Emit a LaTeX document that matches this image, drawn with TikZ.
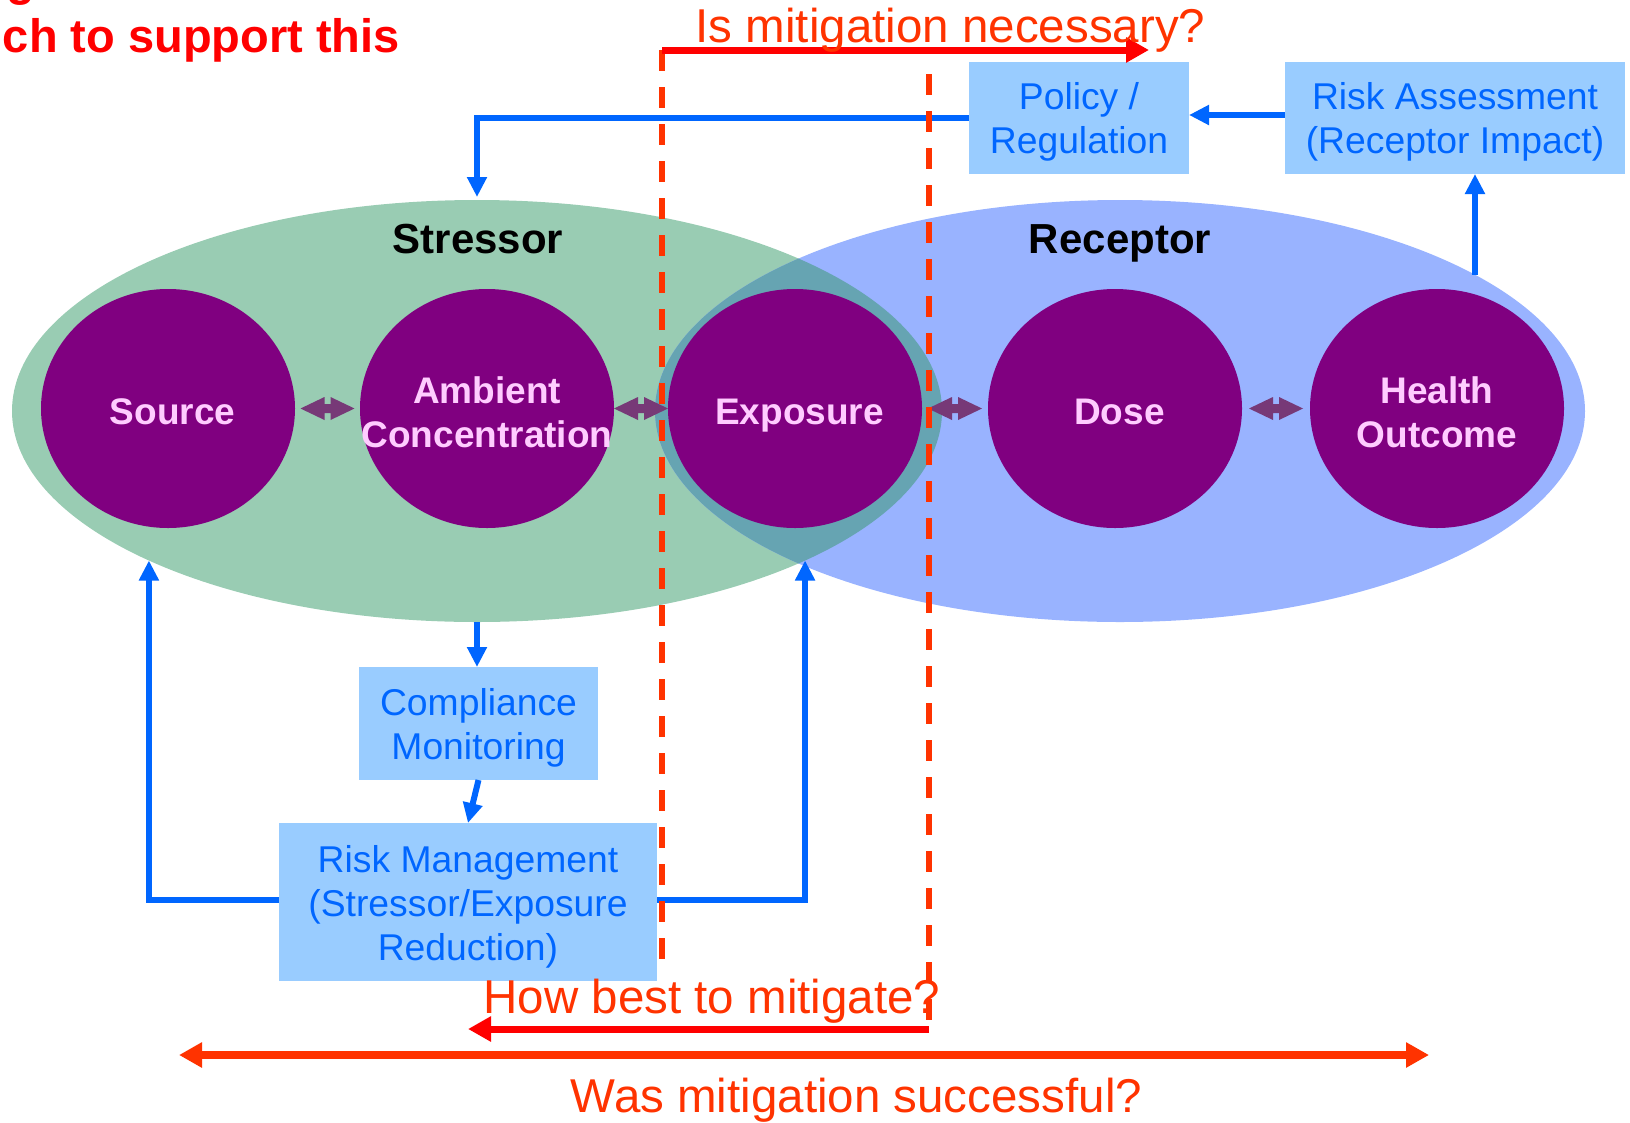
\documentclass[tikz,border=0pt]{standalone}
\usepackage{fontspec}
\setmainfont{Liberation Sans}
\usetikzlibrary{arrows.meta,shapes.geometric,calc}

\definecolor{stressfill}{RGB}{153,204,179}
\definecolor{recfill}{RGB}{153,179,255}
\definecolor{lensfill}{RGB}{102,164,178}
\definecolor{circfill}{RGB}{128,0,128}
\definecolor{circtext}{RGB}{255,204,255}
\definecolor{linkarrow}{RGB}{119,57,119}
\definecolor{boxfill}{RGB}{153,204,255}
\definecolor{flowblue}{RGB}{0,102,255}
\definecolor{qred}{RGB}{255,51,0}
\definecolor{headred}{RGB}{255,0,0}

\begin{document}
\begin{tikzpicture}[x=1pt,y=-1pt,
  zone/.style={ellipse, minimum width=930pt, minimum height=422pt, inner sep=0pt, outer sep=0pt},
  stage/.style={ellipse, fill=circfill, minimum width=254pt, minimum height=239pt, inner sep=0pt, outer sep=0pt},
  stagetext/.style={inner sep=0pt, text=circtext, align=center,
    font=\fontsize{37}{44}\selectfont\bfseries},
  zonetitle/.style={inner sep=0pt, anchor=base, font=\fontsize{42}{50}\selectfont\bfseries},
  infobox/.style={fill=boxfill, inner sep=0pt, outer sep=0pt},
  infotext/.style={inner sep=0pt, text=flowblue, align=center,
    font=\fontsize{37.3}{44}\selectfont},
  flow/.style={draw=flowblue, line width=6pt, -{Triangle[length=20pt,width=19pt]}},
  linkarrow/.style={fill=linkarrow},
  guide/.style={draw=qred, line width=6pt, dash pattern=on 21pt off 16pt},
  question/.style={inner sep=0pt, anchor=base, text=qred, font=\fontsize{47.5}{57}\selectfont},
  redarrow/.style={draw=headred, line width=7pt, -{Triangle[length=23pt,width=24pt]}},
]
\useasboundingbox (0,0) rectangle (1630,1122);
\clip (0,0) rectangle (1630,1122);

% heading fragment in the top left corner
\node[inner sep=0pt, anchor=base east, text=headred, font=\fontsize{47}{57}\selectfont\bfseries]
  (headB) at (400,52) {ch to support this};
\node[inner sep=0pt, anchor=base west, text=headred, font=\fontsize{47}{57}\selectfont\bfseries]
  (headA) at (6,-5) {g};

% stressor and receptor zones with their overlap
\node[zone, fill=stressfill] (stress) at (477,411) {};
\node[zone, fill=recfill] (rec) at (1120,411) {};
\begin{scope}
  \clip (stress.center) ellipse [x radius=465pt, y radius=211pt];
  \fill[lensfill] (rec.center) ellipse [x radius=465pt, y radius=211pt];
\end{scope}
\node[zonetitle] (stressT) at (478,253) {Stressor};
\node[zonetitle] (recT) at (1120,253) {Receptor};

% chain of stages
\node[stage] (src)  at (168,408.5)  {};
\node[stage] (amb)  at (487,408.5)  {};
\node[stage] (expo) at (795,408.5)  {};
\node[stage] (dose) at (1115,408.5) {};
\node[stage] (hlth) at (1437,408.5) {};
\node[stagetext, anchor=base] (srcT)  at ([xshift=4.5pt,yshift=-15.5pt]src.center)  {Source};
\node[stagetext] (ambT)  at ([yshift=-4pt]amb.center)  {Ambient\\Concentration};
\node[stagetext, anchor=base] (expoT) at ([xshift=4.5pt,yshift=-15.5pt]expo.center) {Exposure};
\node[stagetext, anchor=base] (doseT) at ([xshift=4.5pt,yshift=-15.5pt]dose.center) {Dose};
\node[stagetext] (hlthT) at ([yshift=-4pt]hlth.center) {Health\\Outcome};

% two-way links between neighbouring stages
\foreach \a/\b in {src/amb, amb/expo, expo/dose, dose/hlth}{
  \fill[linkarrow] ($(\a.east)!0.5!(\b.west)+(-27,0)$)
    -- ++(24,-11.5) -- ++(0,7) -- ++(6,0) -- ++(0,-7) -- ++(24,11.5)
    -- ++(-24,11.5) -- ++(0,-7) -- ++(-6,0) -- ++(0,7) -- cycle;
}

% information boxes
\node[infobox, minimum width=220pt, minimum height=112pt] (pol)  at (1079,118) {};
\node[infobox, minimum width=340pt, minimum height=112pt] (ra)   at (1455,118) {};
\node[infobox, minimum width=239pt, minimum height=113pt] (comp) at (478.5,723.5) {};
\node[infobox, minimum width=378pt, minimum height=158pt] (rm)   at (468,902) {};
\node[infotext] (polT)  at ([yshift=-4pt]pol.center)  {Policy /\\Regulation};
\node[infotext] (raT)   at ([yshift=-4pt]ra.center)   {Risk Assessment\\(Receptor Impact)};
\node[infotext] (compT) at ([yshift=-4pt]comp.center) {Compliance\\Monitoring};
\node[infotext] (rmT)   at ([yshift=-5pt]rm.center)   {Risk Management\\(Stressor/Exposure\\Reduction)};

% feedback loop
\draw[flow] (pol.west) -| ([yshift=3pt]stress.north);
\draw[flow] ([yshift=3pt]ra.west) -- ([yshift=3pt]pol.east);
\draw[flow] (rec.21) -- (rec.21 |- ra.south);
\draw[flow] (stress.south) -- (stress.south |- comp.north);
\draw[flow] (comp.south) -- (rm.north);
\draw[flow] ([yshift=2pt]rm.west) -| ($(stress.204)!0.5!(stress.205)$);
\draw[flow] ([yshift=2pt]rm.east) -| ($(stress.335)!0.5!(stress.336)$);

% mitigation guides
\coordinate (gAtop) at (662,50);
\coordinate (gAbot) at (662,967);
\coordinate (gBtop) at (929,74);
\coordinate (gBbot) at (929,1030);
\coordinate (necEnd) at (1149,50);
\coordinate (howEnd) at (468,1029);
\coordinate (wasL) at (179,1055);
\coordinate (wasR) at (1429,1055);
\draw[guide] (gAtop) -- (gAbot);
\draw[guide] (gBtop) -- (gBbot);
\draw[redarrow] (gAtop) -- (necEnd);
\draw[redarrow] (gBbot |- howEnd) -- (howEnd);
\draw[draw=qred, line width=8pt, {Triangle[length=23pt,width=24pt]}-{Triangle[length=23pt,width=24pt]}] (wasL) -- (wasR);

\node[question] (qNec) at (950.5,42) {Is mitigation necessary?};
\node[question] (qHow) at (712,1013) {How best to mitigate?};
\node[question] (qWas) at (856.5,1112) {Was mitigation successful?};
\end{tikzpicture}
\end{document}
